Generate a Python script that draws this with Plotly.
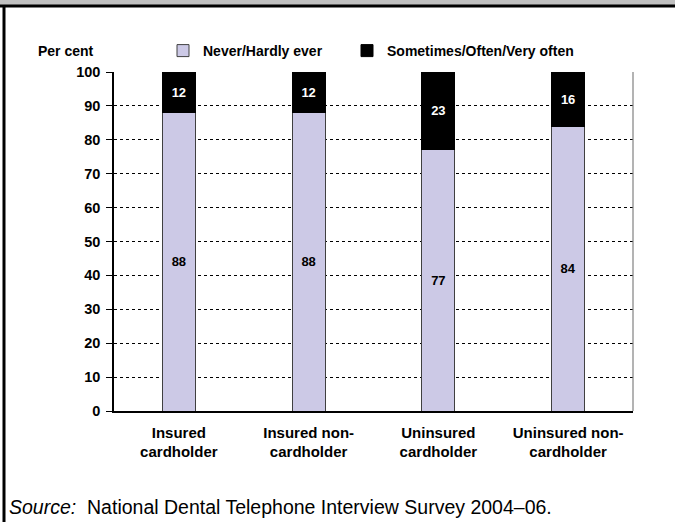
import plotly.graph_objects as go

categories = ["Insured<br>cardholder", "Insured non-<br>cardholder",
              "Uninsured<br>cardholder", "Uninsured non-<br>cardholder"]
never = [88, 88, 77, 84]
sometimes = [12, 12, 23, 16]
series_names = ["Never/Hardly ever", "Sometimes/Often/Very often"]
y_ticks = list(range(0, 101, 10))

FONT = "Arial, Liberation Sans, sans-serif"
FS = 14

fig = go.Figure()
fig.add_trace(go.Bar(
    x=categories, y=never, name=series_names[0], legend="legend",
    marker=dict(color="#CCC9E6", line=dict(color="#404040", width=1)),
    text=[str(v) for v in never], textposition="inside",
    insidetextanchor="middle",
    textfont=dict(family=FONT, size=13, color="black", weight="bold"),
    width=0.255,
))
fig.add_trace(go.Bar(
    x=categories, y=sometimes, name=series_names[1], legend="legend2",
    marker=dict(color="black", line=dict(color="black", width=1)),
    text=[str(v) for v in sometimes], textposition="inside",
    insidetextanchor="middle",
    textfont=dict(family=FONT, size=13, color="white", weight="bold"),
    width=0.255,
))

L, R, T, B = 114, 42, 72, 111
W, H = 675, 522
ph = H - T - B
pw = W - L - R

def px_x(px):
    return (px - L) / pw

def px_y(py):
    return (H - B - py) / ph

legend_common = dict(
    orientation="h", xanchor="left", yanchor="middle",
    font=dict(family=FONT, size=FS, color="black", weight="bold"),
    bgcolor="rgba(0,0,0,0)", borderwidth=0,
)

fig.update_layout(
    width=W, height=H,
    margin=dict(l=L, r=R, t=T, b=B, pad=0),
    barmode="stack",
    paper_bgcolor="white", plot_bgcolor="white",
    font=dict(family=FONT, size=FS, color="black"),
    showlegend=True,
    legend=dict(x=px_x(163), y=px_y(51), **legend_common),
    legend2=dict(x=px_x(347), y=px_y(51), **legend_common),
    uniformtext=dict(mode="show", minsize=12),
)

fig.update_yaxes(
    range=[0, 100], tickvals=y_ticks, ticks="outside", ticklen=6, tickcolor="black",
    showgrid=True, gridcolor="black", griddash="dot", gridwidth=1,
    showline=True, linecolor="black", linewidth=1.5,
    tickfont=dict(family=FONT, size=14.5, color="black", weight="bold"),
    zeroline=False, mirror=False, ticklabelstandoff=3,
)
fig.update_xaxes(
    showline=True, linecolor="black", linewidth=1.5, ticks="",
    tickfont=dict(family=FONT, size=15, color="black", weight="bold"),
    showgrid=False, ticklabelstandoff=7,
)

shapes = [
    dict(type="line", xref="paper", yref="paper", x0=1, x1=1, y0=0, y1=1,
         line=dict(color="#808080", width=1.2)),
    dict(type="rect", xref="paper", yref="paper", x0=px_x(-2), x1=px_x(W + 2),
         y0=px_y(5), y1=px_y(-2), fillcolor="#C0C0C0", line=dict(width=0), layer="above"),
    dict(type="line", xref="paper", yref="paper", x0=px_x(-2), x1=px_x(W + 2),
         y0=px_y(6), y1=px_y(6), line=dict(color="black", width=3)),
    dict(type="line", xref="paper", yref="paper", x0=px_x(4), x1=px_x(4),
         y0=px_y(6), y1=px_y(H + 2), line=dict(color="black", width=3)),
]
fig.update_layout(shapes=shapes)

fig.add_annotation(
    text="<b>Per cent</b>", xref="paper", yref="paper",
    x=px_x(96), y=px_y(51), xanchor="right", yanchor="middle",
    showarrow=False, font=dict(family=FONT, size=FS, color="black"),
)
fig.add_annotation(
    text="<i>Source:</i>  National Dental Telephone Interview Survey 2004–06.",
    xref="paper", yref="paper", x=px_x(7), y=px_y(507),
    xanchor="left", yanchor="middle", showarrow=False,
    font=dict(family=FONT, size=19.5, color="black"),
)

fig.write_html(
    "out.html",
    config={"displayModeBar": False},
    post_script="document.body.style.margin='0px';document.body.style.overflow='hidden';",
)
